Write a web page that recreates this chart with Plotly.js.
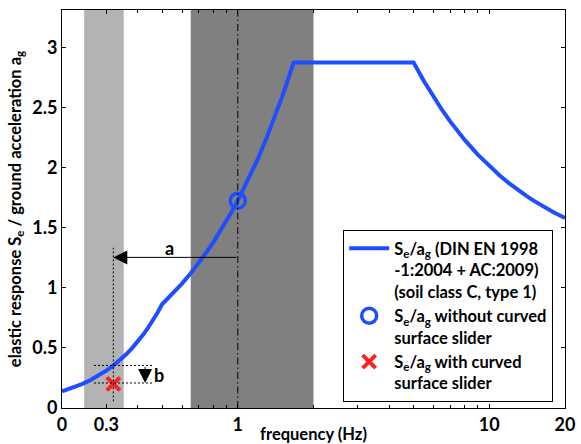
<!DOCTYPE html>
<html><head><meta charset="utf-8">
<script src="https://cdn.plot.ly/plotly-3.0.1.min.js"></script>
<style>html,body{margin:0;padding:0;background:#fff}</style>
</head><body><div id="chart" style="width:581px;height:444px"></div>
<script>
// Response spectrum (frequency in Hz, Se/ag)
const freq = [0.2, 0.22, 0.24, 0.26, 0.28, 0.3, 0.32, 0.34, 0.36, 0.38, 0.4, 0.42, 0.44, 0.46, 0.48, 0.5,
  0.55, 0.6, 0.65, 0.7, 0.75, 0.8, 0.85, 0.9, 0.95, 1.0, 1.1, 1.2, 1.3, 1.4, 1.5, 1.6, 1.667,
  2, 3, 4, 5, 5.5, 6, 6.5, 7, 8, 9, 10, 11, 12, 13, 14, 15, 16, 18, 20];
const response = [0.138, 0.167, 0.199, 0.233, 0.270, 0.311, 0.353, 0.399, 0.447, 0.498, 0.552, 0.609, 0.668, 0.730, 0.795, 0.863,
  0.949, 1.035, 1.121, 1.208, 1.294, 1.380, 1.466, 1.553, 1.639, 1.725, 1.898, 2.070, 2.243, 2.415, 2.588, 2.760, 2.875,
  2.875, 2.875, 2.875, 2.875, 2.718, 2.588, 2.477, 2.382, 2.228, 2.108, 2.013, 1.934, 1.869, 1.813, 1.766, 1.725, 1.689, 1.629, 1.581];

const fWithout = [1.0];
const seWithout = [1.725];
const fWith = [0.32];
const seWith = [0.2];

const bandLight = [0.245, 0.352];
const bandDark = [0.65, 2.0];

const xTickVals = [0.2, 0.3, 1, 10, 20];
const xTickText = ['0', '0.3', '1', '10', '20'];
const xMinorVals = [0.4, 0.5, 0.6, 0.7, 0.8, 0.9, 2, 3, 4, 5, 6, 7, 8, 9];
const yTickVals = [0, 0.5, 1, 1.5, 2, 2.5, 3];

// Arrow "a": period shift, arrow "b": response reduction
const arrowA = [1.0, 0.32, 1.253];      // from f, to f, level
const arrowB = [0.428, 0.354, 0.208];   // at f, from Se, to Se
const dottedV = [0.32, 0.055, 1.333];   // f, y0, y1
const dottedH = [0.268, 0.462];         // f range of the dotted level lines

const FONT = 'Lato, Noto Sans, sans-serif';
const W = 700;
const BLUE = '#1f4dff';
const L = Math.log10;

const traces = [
  {x: freq, y: response, mode: 'lines', line: {color: BLUE, width: 4},
   name: 'S<sub>e</sub>/a<sub>g</sub> (DIN EN 1998<br>-1:2004 + AC:2009)<br>(soil class C, type 1)'},
  {x: fWithout, y: seWithout, mode: 'markers',
   marker: {symbol: 'circle-open', size: 15, color: BLUE, line: {width: 3.5, color: BLUE}},
   name: 'S<sub>e</sub>/a<sub>g</sub> without curved<br>surface slider'},
  {x: fWith, y: seWith, mode: 'markers',
   marker: {symbol: 'x-thin-open', size: 13, color: '#ff2020', line: {width: 4, color: '#ff2020'}},
   name: 'S<sub>e</sub>/a<sub>g</sub> with curved<br>surface slider'}
];

const shapes = [
  {type: 'rect', xref: 'x', yref: 'paper', x0: bandLight[0], x1: bandLight[1], y0: 0, y1: 1,
   fillcolor: '#b3b3b3', line: {width: 0}, layer: 'below'},
  {type: 'rect', xref: 'x', yref: 'paper', x0: bandDark[0], x1: bandDark[1], y0: 0, y1: 1,
   fillcolor: '#808080', line: {width: 0}, layer: 'below'},
  {type: 'line', xref: 'x', yref: 'paper', x0: fWithout[0], x1: fWithout[0], y0: 0, y1: 1,
   line: {color: '#000', width: 1, dash: '7px,3px,1.5px,3px'}},
  {type: 'line', xref: 'x', yref: 'y', x0: dottedV[0], x1: dottedV[0], y0: dottedV[1], y1: dottedV[2],
   line: {color: '#000', width: 1, dash: '2px,2px'}},
  {type: 'line', xref: 'x', yref: 'y', x0: dottedH[0], x1: dottedH[1], y0: arrowB[1], y1: arrowB[1],
   line: {color: '#000', width: 1, dash: '2px,2px'}},
  {type: 'line', xref: 'x', yref: 'y', x0: dottedH[0], x1: dottedH[1], y0: arrowB[2], y1: arrowB[2],
   line: {color: '#000', width: 1, dash: '2px,2px'}}
];

const annotations = [
  {x: L(arrowA[1]), y: arrowA[2], ax: L(arrowA[0]), ay: arrowA[2], xref: 'x', yref: 'y', axref: 'x', ayref: 'y',
   text: '', showarrow: true, arrowhead: 2, arrowsize: 2.8, arrowwidth: 1, arrowcolor: '#000'},
  {x: L(arrowB[0]), y: arrowB[2], ax: L(arrowB[0]), ay: arrowB[1], xref: 'x', yref: 'y', axref: 'x', ayref: 'y',
   text: '', showarrow: true, arrowhead: 2, arrowsize: 2.8, arrowwidth: 1, arrowcolor: '#000'},
  {x: L(0.535), y: 1.33, xref: 'x', yref: 'y', text: 'a', showarrow: false,
   font: {family: FONT, size: 18, color: '#000', weight: W}},
  {x: L(0.485), y: 0.275, xref: 'x', yref: 'y', text: 'b', showarrow: false,
   font: {family: FONT, size: 18, color: '#000', weight: W}}
];

const layout = {
  width: 581, height: 444,
  margin: {l: 62, r: 16, t: 10, b: 36},
  paper_bgcolor: '#fff', plot_bgcolor: '#fff',
  font: {family: FONT, size: 16, color: '#000', weight: W},
  showlegend: true,
  xaxis: {type: 'log', range: [L(0.2), L(20)], tickmode: 'array', tickvals: xTickVals, ticktext: xTickText,
    ticks: 'inside', ticklen: 4, tickcolor: '#000', showline: true, linecolor: '#000', linewidth: 1,
    mirror: 'allticks', showgrid: false, zeroline: false,
    minor: {tickmode: 'array', tickvals: xMinorVals, ticks: 'inside', ticklen: 3, tickcolor: '#000', showgrid: false},
    tickfont: {family: FONT, size: 18, weight: W},
    title: {text: 'frequency (Hz)', font: {family: FONT, size: 16.5, weight: W}, standoff: 0}},
  yaxis: {range: [0, 3.311], tickmode: 'array', tickvals: yTickVals,
    ticks: 'inside', ticklen: 4, tickcolor: '#000', showline: true, linecolor: '#000', linewidth: 1,
    mirror: 'allticks', showgrid: false, zeroline: false,
    tickfont: {family: FONT, size: 18, weight: W},
    title: {text: 'elastic response S<sub>e</sub> / ground acceleration a<sub>g</sub>', font: {family: FONT, size: 16.5, weight: W}, standoff: 6}},
  legend: {x: 0.559, y: 0.447, xanchor: 'left', yanchor: 'top', bgcolor: '#fff', bordercolor: '#000', borderwidth: 1,
    font: {family: FONT, size: 16.5, weight: W}, itemwidth: 40, valign: 'top', tracegroupgap: 2},
  shapes: shapes,
  annotations: annotations
};

Plotly.newPlot('chart', traces, layout, {staticPlot: true, displayModeBar: false});
</script></body></html>
